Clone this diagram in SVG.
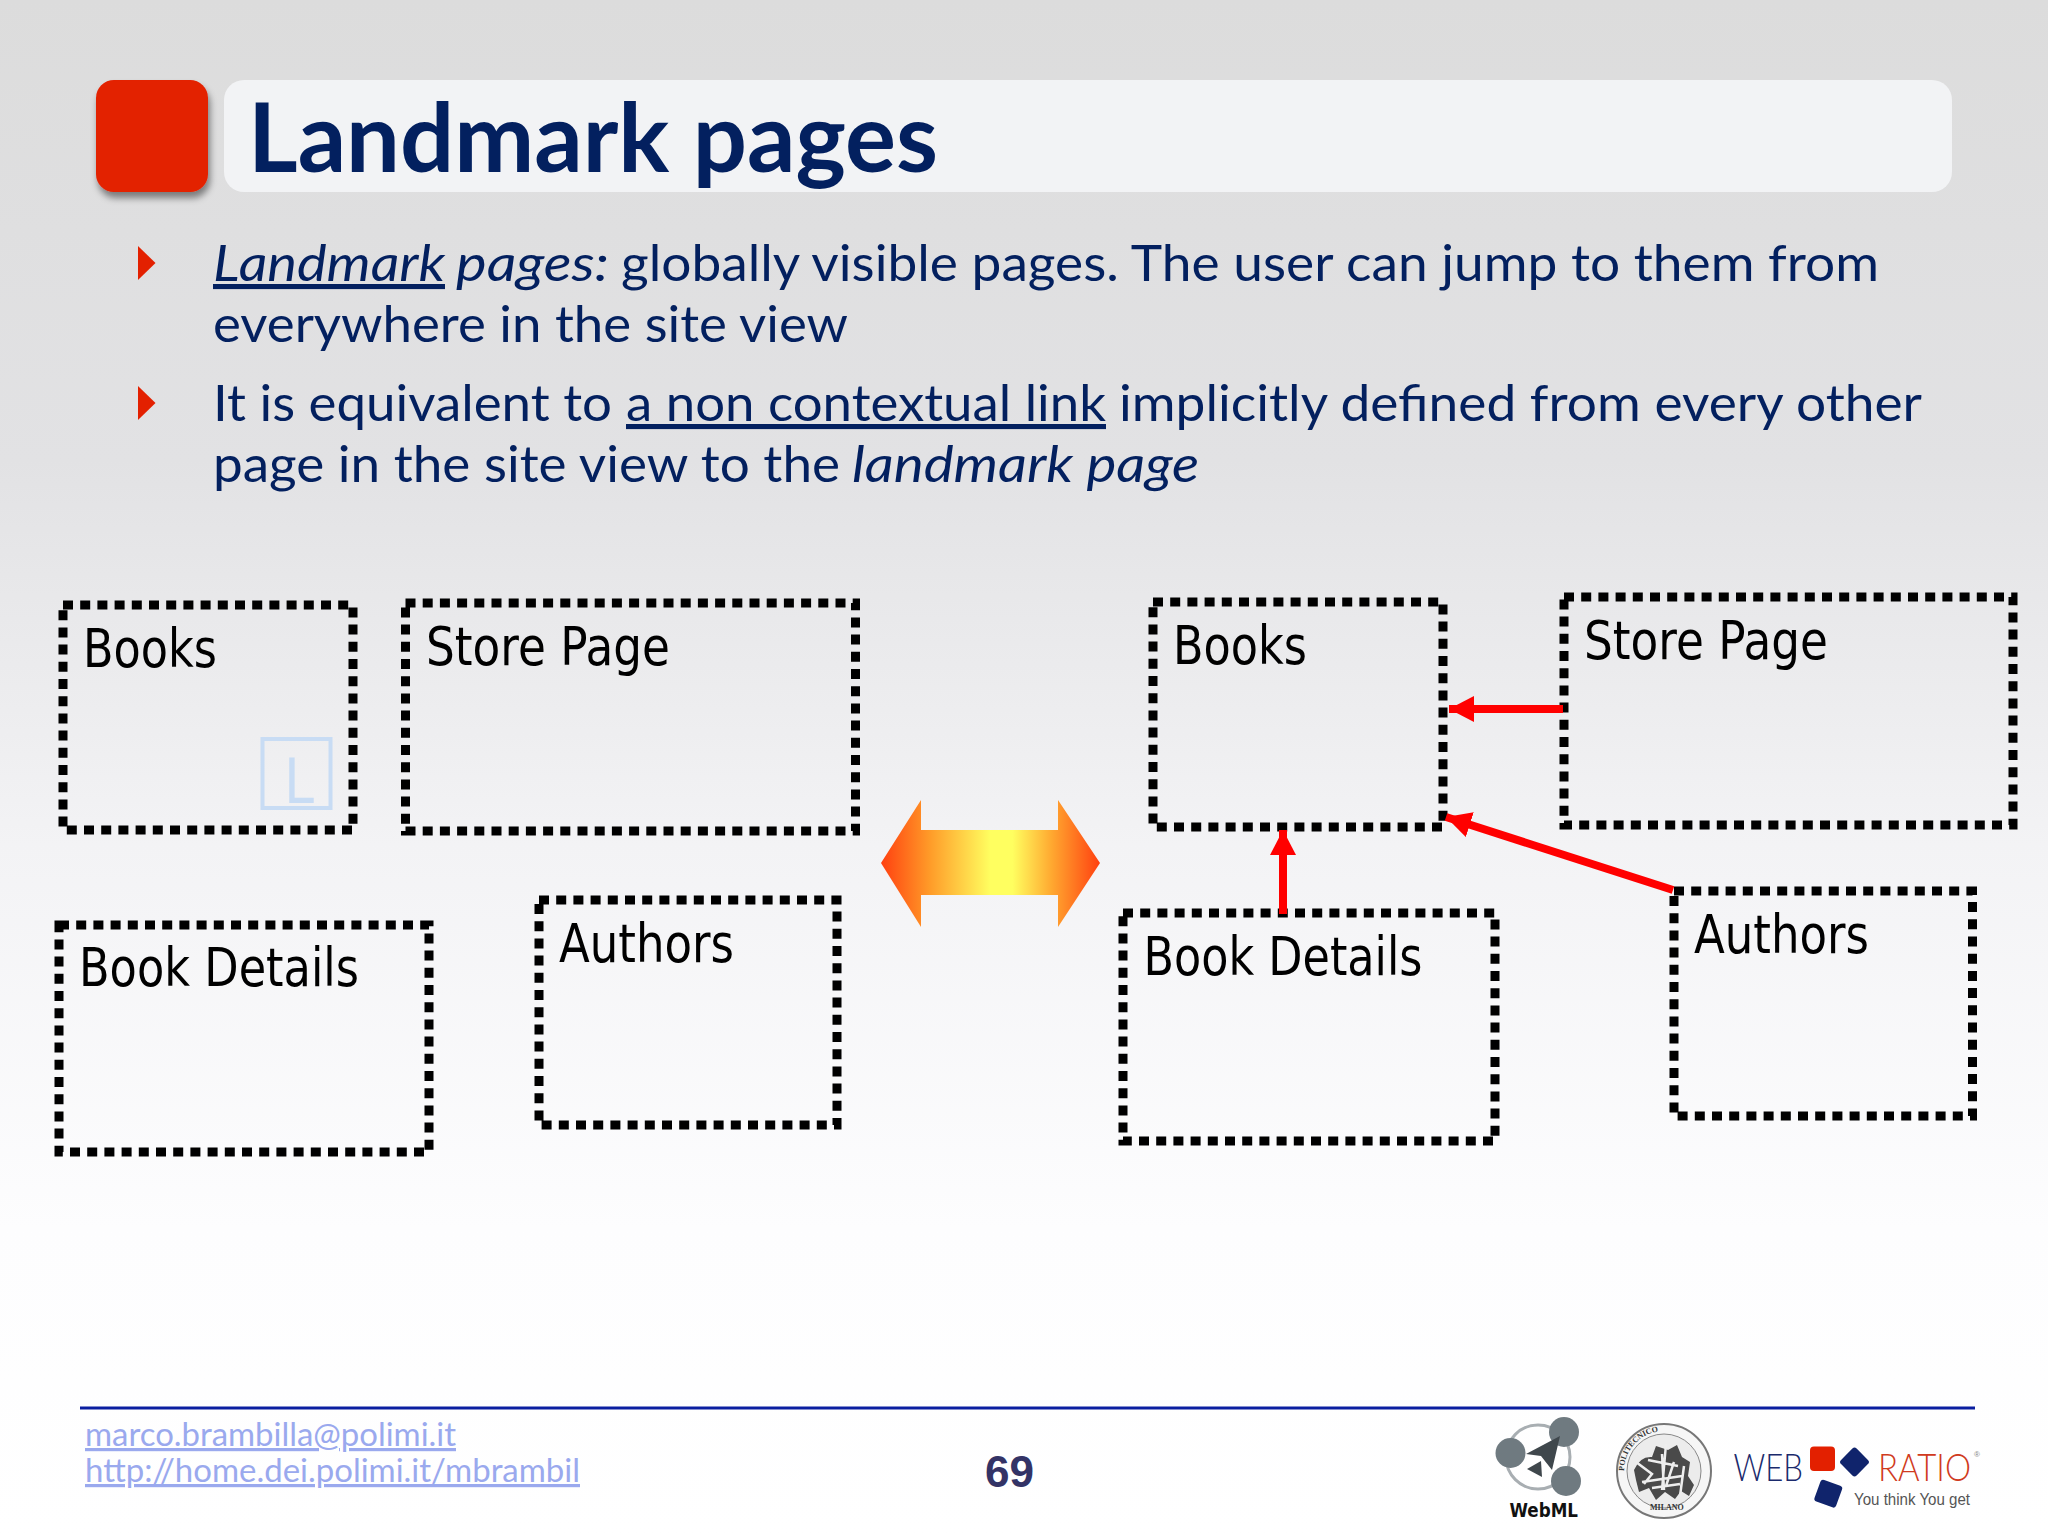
<svg xmlns="http://www.w3.org/2000/svg" width="2048" height="1536" viewBox="0 0 2048 1536">
<defs>
<linearGradient id="bg" x1="0" y1="0" x2="0" y2="1">
<stop offset="0" stop-color="#dcdcdc"/><stop offset="0.3" stop-color="#e2e2e4"/><stop offset="0.55" stop-color="#f3f3f5"/><stop offset="0.8" stop-color="#fdfdfe"/><stop offset="1" stop-color="#ffffff"/>
</linearGradient>
<linearGradient id="dbl" x1="881" y1="0" x2="1100" y2="0" gradientUnits="userSpaceOnUse">
<stop offset="0" stop-color="#ff4010"/><stop offset="0.22" stop-color="#ff9a28"/><stop offset="0.5" stop-color="#ffff60"/><stop offset="0.6" stop-color="#ffff60"/><stop offset="0.78" stop-color="#ffa830"/><stop offset="1" stop-color="#ff4010"/>
</linearGradient>
<filter id="sh" x="-20%" y="-20%" width="140%" height="140%"><feDropShadow dx="2" dy="6" stdDeviation="3.5" flood-color="#000" flood-opacity="0.45"/></filter>
<marker id="ah" markerUnits="userSpaceOnUse" markerWidth="26" markerHeight="26" refX="25" refY="13" orient="auto"><path d="M0 0L25 13L0 26z" fill="#ff0000"/></marker>
<path id="tp" d="M1624 1471a40 40 0 0 1 80 0"/>
</defs>
<style>
.t{font-family:"Lato","Liberation Sans",sans-serif;font-size:51px;fill:#03205f}
.i{font-style:italic}
.u{text-decoration:underline}
.h{font-family:"Lato","Liberation Sans",sans-serif;font-size:96px;font-weight:700;fill:#03205f}
.b{fill:#e32000}
.n{fill:none;stroke:#000;stroke-width:9;stroke-dasharray:10 7.200}
.l{font-family:"DejaVu Sans","Liberation Sans",sans-serif;font-size:53px;fill:#000}
.f{font-family:"Lato","Liberation Sans",sans-serif;font-size:32px;fill:#9aa9ee;text-decoration:underline}
.c{fill:none;stroke:#ff0000;stroke-width:8;marker-end:url(#ah)}
.g{fill:#6f7a80}
</style>
<rect width="2048" height="1536" fill="url(#bg)"/>
<g id="header">
<rect x="96" y="80" width="112" height="112" rx="18" fill="#e32000" filter="url(#sh)"/>
<rect x="224" y="80" width="1728" height="112" rx="20" fill="#f2f3f5"/>
<text class="h" x="248" y="172" textLength="690" lengthAdjust="spacingAndGlyphs">Landmark pages</text>
</g>
<g id="body">
<path class="b" d="M138 246L155.500 263L138 280z"/>
<path class="b" d="M138 386L155.500 403L138 420z"/>
<text class="t i u" x="213" y="281" textLength="232" lengthAdjust="spacingAndGlyphs">Landmark</text>
<text class="t i" x="456" y="281" textLength="153" lengthAdjust="spacingAndGlyphs">pages:</text>
<text class="t" x="621" y="281" textLength="1258" lengthAdjust="spacingAndGlyphs">globally visible pages. The user can jump to them from</text>
<text class="t" x="213" y="342" textLength="635" lengthAdjust="spacingAndGlyphs">everywhere in the site view</text>
<text class="t" x="213" y="421" textLength="399" lengthAdjust="spacingAndGlyphs">It is equivalent to</text>
<text class="t u" x="626" y="421" textLength="480" lengthAdjust="spacingAndGlyphs">a non contextual link</text>
<text class="t" x="1119" y="421" textLength="803" lengthAdjust="spacingAndGlyphs">implicitly defined from every other</text>
<text class="t" x="213" y="482" textLength="627" lengthAdjust="spacingAndGlyphs">page in the site view to the</text>
<text class="t i" x="852" y="482" textLength="347" lengthAdjust="spacingAndGlyphs">landmark page</text>
</g>
<g id="left-books"><rect class="n" x="63" y="605" width="290" height="225"/><text class="l" x="83" y="667" textLength="134" lengthAdjust="spacingAndGlyphs">Books</text>
<rect x="262.500" y="739" width="68" height="69" fill="none" stroke="#c8dcf4" stroke-width="4"/><text x="284" y="803" font-family="DejaVu Sans,sans-serif" font-size="62" fill="#c8dcf4" textLength="30" lengthAdjust="spacingAndGlyphs">L</text></g>
<g id="left-store"><rect class="n" x="405.500" y="603" width="450" height="228"/><text class="l" x="426" y="664.500" textLength="244" lengthAdjust="spacingAndGlyphs">Store Page</text></g>
<g id="left-details"><rect class="n" x="59" y="925" width="370" height="227"/><text class="l" x="79" y="986" textLength="280" lengthAdjust="spacingAndGlyphs">Book Details</text></g>
<g id="left-authors"><rect class="n" x="539" y="900" width="298" height="225"/><text class="l" x="559" y="961.500" textLength="175" lengthAdjust="spacingAndGlyphs">Authors</text></g>
<g id="equivalence"><path fill="url(#dbl)" d="M881 863L921 800V830H1058V800L1100 863L1058 927V895H921V927z"/></g>
<g id="right-books"><rect class="n" x="1153" y="602" width="290" height="225"/><text class="l" x="1173" y="664" textLength="134" lengthAdjust="spacingAndGlyphs">Books</text></g>
<g id="right-store"><rect class="n" x="1564" y="597" width="449" height="228"/><text class="l" x="1584" y="658.500" textLength="244" lengthAdjust="spacingAndGlyphs">Store Page</text></g>
<g id="right-details"><rect class="n" x="1123" y="913" width="372" height="228"/><text class="l" x="1143.500" y="975" textLength="279" lengthAdjust="spacingAndGlyphs">Book Details</text></g>
<g id="right-authors"><rect class="n" x="1674" y="891" width="298.500" height="225"/><text class="l" x="1694" y="953" textLength="175" lengthAdjust="spacingAndGlyphs">Authors</text></g>
<g id="connectors">
<line class="c" x1="1563" y1="709" x2="1449" y2="709"/>
<line class="c" x1="1283" y1="914" x2="1283" y2="830"/>
<line class="c" x1="1673" y1="890" x2="1446" y2="817"/>
</g>
<g id="footer">
<line x1="80" y1="1408" x2="1975" y2="1408" stroke="#0a1ea0" stroke-width="3"/>
<text class="f" x="85" y="1446" textLength="371" lengthAdjust="spacingAndGlyphs">marco.brambilla@polimi.it</text>
<text class="f" x="85" y="1482" textLength="495" lengthAdjust="spacingAndGlyphs">http://home.dei.polimi.it/mbrambil</text>
<text x="985" y="1487" font-family="Liberation Sans,sans-serif" font-weight="700" font-size="44" fill="#333366" textLength="49" lengthAdjust="spacingAndGlyphs">69</text>
</g>
<g id="logo-webml">
<circle cx="1538" cy="1457" r="32" fill="none" stroke="#a8aeb2" stroke-width="3"/>
<circle class="g" cx="1510.500" cy="1453" r="15"/><circle class="g" cx="1564" cy="1432" r="15"/><circle class="g" cx="1566" cy="1481" r="15"/>
<path d="M1526 1454L1560 1436L1552 1470L1541 1456z" fill="#3f474c"/><path d="M1527 1469L1541 1461L1542 1477z" fill="#3f474c"/>
<text x="1509.500" y="1517" font-family="DejaVu Sans,sans-serif" font-weight="700" font-size="19" fill="#111" textLength="68.500" lengthAdjust="spacingAndGlyphs">WebML</text>
</g>
<g id="logo-polimi">
<circle cx="1664" cy="1471" r="47" fill="#f6f6f6" stroke="#777" stroke-width="2"/>
<circle cx="1664" cy="1471" r="37" fill="#ececec" stroke="#888" stroke-width="1"/>
<path d="M1634 1470q6-14 18-13l4-11 12 4 9-5 5 12 8 5-2 14 6 9-5 11-8-5-6 8-10-7-9 8-7-12-10 4-3-12z" fill="#4a4a4a"/>
<path d="M1636 1462l16 12-8 10m18-30l2 36m10-28l-8 24m18-20l-4 30m-38-14l40-6m-34-16l30 6m-26 22l28-4m-14-40l-4 46" fill="none" stroke="#eee" stroke-width="2.500"/>
<text font-family="Liberation Serif,serif" font-size="8" font-weight="700" fill="#333"><textPath href="#tp">POLITECNICO</textPath></text>
<text x="1650" y="1510" font-family="Liberation Serif,serif" font-size="8" font-weight="700" fill="#333">MILANO</text>
</g>
<g id="logo-webratio">
<text x="1733.500" y="1481" font-family="Lato,Liberation Sans,sans-serif" font-weight="300" font-size="38" fill="#1a2a6c" textLength="69.500" lengthAdjust="spacingAndGlyphs">WEB</text>
<rect x="1810" y="1446.500" width="25" height="24.500" rx="4" fill="#e32000"/>
<rect x="1843.500" y="1451" width="22" height="22" rx="3" fill="#10246c" transform="rotate(45 1854.500 1462)"/>
<rect x="1817" y="1482" width="23" height="23" rx="3" fill="#10246c" transform="rotate(20 1828 1493)"/>
<text x="1878" y="1481" font-family="Lato,Liberation Sans,sans-serif" font-weight="300" font-size="38" fill="#d03a20" textLength="93" lengthAdjust="spacingAndGlyphs">RATIO</text>
<text x="1974" y="1457" font-family="Liberation Sans,sans-serif" font-size="8" fill="#888">®</text>
<text x="1854" y="1505" font-family="Liberation Sans,sans-serif" font-size="16" fill="#555" textLength="116" lengthAdjust="spacingAndGlyphs">You think You get</text>
</g>
</svg>
